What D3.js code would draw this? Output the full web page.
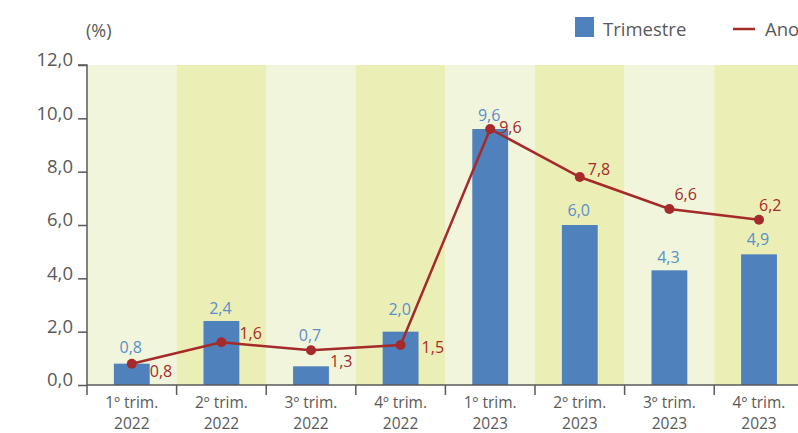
<!DOCTYPE html>
<html><head><meta charset="utf-8">
<script src="https://cdn.jsdelivr.net/npm/d3@7"></script>
<style>
html,body{margin:0;padding:0;background:#fff;overflow:hidden}
svg text{font-family:"Open Sans","Noto Sans",sans-serif}
</style></head>
<body><svg id="c" width="798" height="433"></svg>
<script>
const categories = ["1º trim.|2022","2º trim.|2022","3º trim.|2022","4º trim.|2022","1º trim.|2023","2º trim.|2023","3º trim.|2023","4º trim.|2023"];
const trimestre = [0.8, 2.4, 0.7, 2.0, 9.6, 6.0, 4.3, 4.9];
const ano = [0.8, 1.6, 1.3, 1.5, 9.6, 7.8, 6.6, 6.2];
const yTicks = [0, 2, 4, 6, 8, 10, 12];
const seriesNames = ["Trimestre", "Ano"];
// layout-only: label offsets (px)
const barLabelDy = [-11, -7, -25, -17, -8, -9, -7, -9];
const lineLabelDx = [18, 18, 19, 21, 9, 8, 5, 0];
const lineLabelDy = [13, -3, 17, 8, 4, -2, -9, -9];

const svg = d3.select("#c");
const m = {l: 87, t: 65, b: 385};
const bandW = 89.6;
const x = d3.scaleBand().domain(categories).range([m.l, m.l + bandW * categories.length]).paddingInner(0).paddingOuter(0);
const y = d3.scaleLinear().domain([0, 12]).range([m.b, m.t]);
const fmt = v => d3.format(".1f")(v).replace(".", ",");
const gray = "#595959";
const red = "#A52A2A";

// bands
svg.append("g").selectAll("rect").data(categories).join("rect")
  .attr("x", d => x(d)).attr("y", y(12)).attr("width", x.bandwidth()).attr("height", y(0) - y(12))
  .attr("fill", (d, i) => i % 2 === 0 ? "#F1F5DB" : "#EBEEB5");

// bars
const bw = x.bandwidth() * 0.4;
svg.append("g").selectAll("rect").data(trimestre).join("rect")
  .attr("x", (d, i) => x(categories[i]) + (x.bandwidth() - bw) / 2)
  .attr("y", d => y(d)).attr("width", bw).attr("height", d => y(0) - y(d))
  .attr("fill", "#4F81BD");

// bar labels
svg.append("g").selectAll("text").data(trimestre).join("text")
  .attr("x", (d, i) => x(categories[i]) + x.bandwidth() / 2 - 1)
  .attr("y", (d, i) => y(d) + barLabelDy[i])
  .attr("text-anchor", "middle").attr("font-size", 16).attr("fill", "#5A8FCB")
  .text(d => fmt(d));

// line
const cx = i => x(categories[i]) + x.bandwidth() / 2;
svg.append("path").datum(ano)
  .attr("d", d3.line().x((d, i) => cx(i)).y(d => y(d)))
  .attr("fill", "none").attr("stroke", red).attr("stroke-width", 2.5);
svg.append("g").selectAll("circle").data(ano).join("circle")
  .attr("cx", (d, i) => cx(i)).attr("cy", d => y(d)).attr("r", 5).attr("fill", red);
svg.append("g").selectAll("text").data(ano).join("text")
  .attr("x", (d, i) => cx(i) + lineLabelDx[i])
  .attr("y", (d, i) => y(d) + lineLabelDy[i])
  .attr("font-size", 16).attr("fill", red)
  .text(d => fmt(d));

// y axis
const ya = d3.axisLeft(y).tickValues(yTicks).tickFormat(fmt).tickSize(9).tickPadding(5);
const gy = svg.append("g").attr("transform", `translate(${m.l},0)`).call(ya);
gy.select(".domain").attr("stroke", gray).attr("stroke-width", 1.5).attr("d", `M-9,${y(12)}H0V${y(0)}`);
gy.selectAll(".tick line").attr("stroke", gray).attr("stroke-width", 1.5);
gy.selectAll(".tick text").attr("fill", gray).attr("font-size", 18.5).attr("font-family", "Open Sans").attr("dy", "0.05em");

// x axis
const gx = svg.append("g").attr("transform", `translate(0,${y(0)})`);
gx.append("line").attr("x1", m.l).attr("x2", 798).attr("y1", 0).attr("y2", 0).attr("stroke", gray).attr("stroke-width", 1.5);
const bounds = categories.map(c => x(c)).concat([x(categories[categories.length - 1]) + x.bandwidth()]);
gx.selectAll("line.t").data(bounds).join("line").attr("class", "t")
  .attr("x1", d => d).attr("x2", d => d).attr("y1", 0).attr("y2", 10).attr("stroke", gray).attr("stroke-width", 1.5);
gx.selectAll("text.l1").data(categories).join("text").attr("class", "l1")
  .attr("x", d => x(d) + x.bandwidth() / 2).attr("y", 22.5).attr("text-anchor", "middle")
  .attr("font-size", 15.5).attr("fill", gray).text(d => d.split("|")[0]);
gx.selectAll("text.l2").data(categories).join("text").attr("class", "l2")
  .attr("x", d => x(d) + x.bandwidth() / 2).attr("y", 43.5).attr("text-anchor", "middle")
  .attr("font-size", 15.5).attr("fill", gray).text(d => d.split("|")[1]);

// unit
svg.append("text").attr("x", 86).attr("y", 37).attr("font-size", 18).attr("fill", gray).text("(%)");

// legend
const lg = svg.append("g");
lg.append("rect").attr("x", 575).attr("y", 17).attr("width", 19).attr("height", 20).attr("fill", "#4F81BD");
lg.append("text").attr("x", 603).attr("y", 36).attr("font-size", 18.5).attr("fill", gray).text(seriesNames[0]);
lg.append("line").attr("x1", 733).attr("x2", 755).attr("y1", 29).attr("y2", 29).attr("stroke", red).attr("stroke-width", 2.5);
lg.append("text").attr("x", 765).attr("y", 36).attr("font-size", 18.5).attr("fill", gray).text(seriesNames[1]);
</script></body></html>
